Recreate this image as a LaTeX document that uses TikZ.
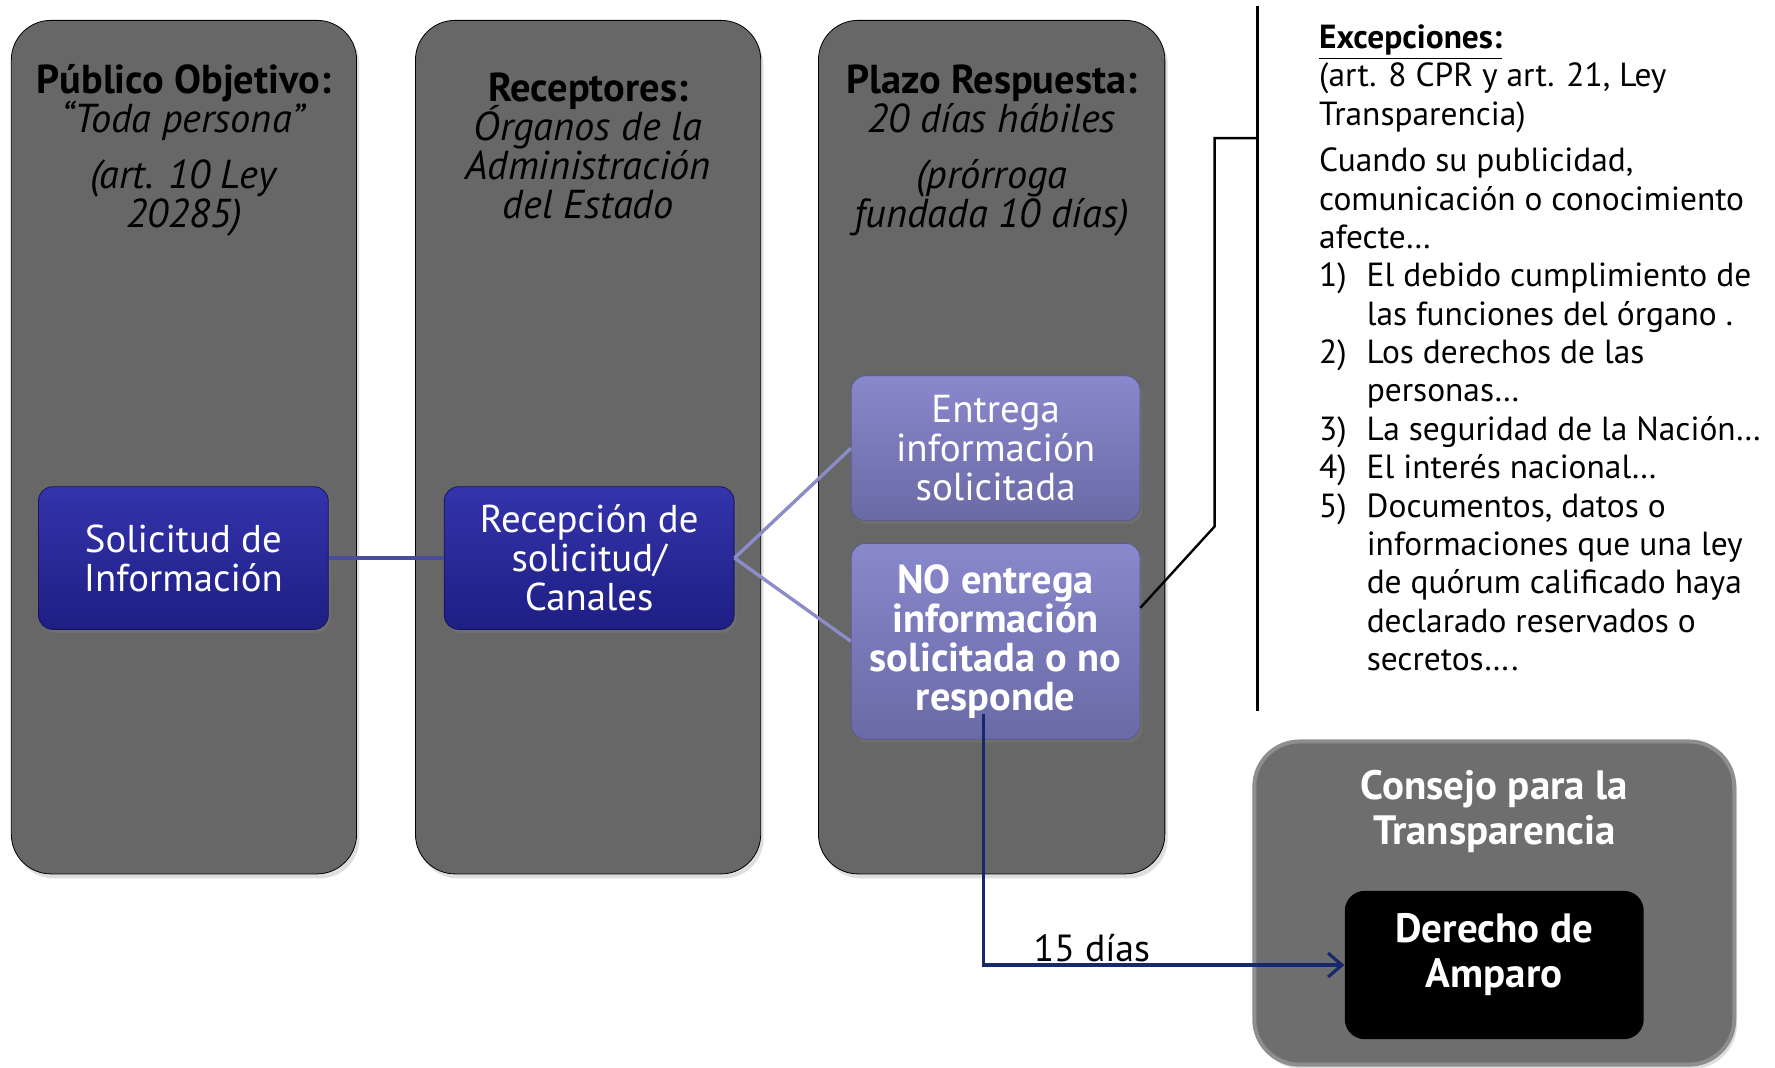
\documentclass[tikz,border=0pt]{standalone}
\usepackage{fontspec}
\setmainfont{PT Sans}
\usetikzlibrary{arrows.meta,positioning,shadows}

\definecolor{colgray}{HTML}{676767}
\definecolor{consgray}{HTML}{6E6E6E}
\definecolor{consedge}{HTML}{8E8E8E}
\definecolor{dtop}{HTML}{3434AC}
\definecolor{dbot}{HTML}{1E1E84}
\definecolor{dedge}{HTML}{15155A}
\definecolor{ltop}{HTML}{8888CC}
\definecolor{lbot}{HTML}{6A6AA6}
\definecolor{ledge}{HTML}{5A5A8E}
\definecolor{linkblue}{HTML}{4C4C9E}
\definecolor{linklilac}{HTML}{8C8CC8}
\definecolor{arrnavy}{HTML}{17296B}

\newcommand{\itemno}[1]{\makebox[0.84cm][l]{#1}}
\newcommand{\itemind}{\hspace*{0.84cm}}
\newcommand{\tightlines}{\lineskiplimit=-10pt\relax}

\begin{document}
\begin{tikzpicture}[
  every node/.style={font=\fontsize{16.8}{19.3}\selectfont},
  col/.style={fill=colgray, rounded corners=0.7cm,
    drop shadow={opacity=0.25, shadow xshift=0.05cm, shadow yshift=-0.08cm}},
  head/.style={align=center, anchor=north, inner sep=0pt,
    font=\fontsize{20.3}{19.6}\selectfont\tightlines},
  dbox/.style={draw=dedge, top color=dtop, bottom color=dbot, rounded corners=0.25cm,
    minimum width=5.12cm, minimum height=2.52cm, text=white, align=center,
    font=\fontsize{19.5}{19.6}\selectfont\tightlines,
    drop shadow={opacity=0.35, shadow xshift=0.04cm, shadow yshift=-0.06cm}},
  lbox/.style={draw=ledge, top color=ltop, bottom color=lbot, rounded corners=0.25cm,
    minimum width=5.1cm, text=white, align=center,
    font=\fontsize{19.6}{19.6}\selectfont\tightlines,
    drop shadow={opacity=0.35, shadow xshift=0.04cm, shadow yshift=-0.06cm}},
  link/.style={draw=linkblue, line width=2.2pt},
  twig/.style={draw=linklilac, line width=1.7pt},
  rule/.style={draw=black, line width=1.2pt},
  arr/.style={draw=arrnavy, line width=1.6pt, -{Straight Barb[length=7pt,width=12pt]}},
  exc/.style={align=left, anchor=north west, inner sep=0pt},
  big/.style={text=white, align=center, font=\fontsize{20.6}{22.7}\selectfont\bfseries}
]
  \useasboundingbox (0,0) rectangle (31.36,18.86);

  % columns
  \draw[col] (0.2,3.42) rectangle (6.3,18.5);
  \draw[col] (7.34,3.42) rectangle (13.44,18.5);
  \draw[col] (14.46,3.42) rectangle (20.58,18.5);

  % headers
  \node[head] (h1) at (3.25,17.72) {\textbf{Público Objetivo:}\\ \textit{“Toda persona”}\\[8.5pt]
    \textit{(art. 10 Ley}\\ \textit{20285)}};
  \node[head] (h2) at (10.39,17.58) {\textbf{Receptores:}\\ \textit{Órganos de la}\\
    \textit{Administración}\\ \textit{del Estado}};
  \node[head] (h3) at (17.52,17.72) {\textbf{Plazo Respuesta:}\\ \textit{20 días hábiles}\\[8.5pt]
    \textit{(prórroga}\\ \textit{fundada 10 días)}};

  % steps
  \node[dbox] (sol) at (3.24,9.0) {Solicitud de\\ Información};
  \node[dbox] (rec) at (10.41,9.0) {Recepción de\\ solicitud/\\ Canales};
  \node[lbox, minimum height=2.56cm] (ent) at (17.59,10.94) {Entrega\\ información\\ solicitada};
  \node[lbox, minimum height=3.46cm,
    font=\fontsize{20.3}{19.6}\selectfont\bfseries\tightlines] (noent)
    at (17.59,7.53) {NO entrega\\ información\\ solicitada o no\\ responde};

  \draw[link] (sol) -- (rec);
  \draw[twig] (rec.east) -- (ent.west);
  \draw[twig] (rec.east) -- (noent.west);

  % exceptions
  \coordinate (rtop) at (22.22,18.76);
  \coordinate (rbot) at (22.22,6.3);
  \coordinate (kink) at (21.46,9.56);
  \coordinate (hook) at (22.22,16.42);
  \draw[rule] (rtop) -- (rbot);
  \draw[rule] (noent.13) -- (kink) |- (hook);

  \node[exc] (list) at (23.3,18.43) {\textbf{\underline{Excepciones:}}\\
    (art. 8 CPR y art. 21, Ley\\
    Transparencia)\\[4pt]
    Cuando su publicidad,\\
    comunicación o conocimiento\\
    afecte…\\
    \itemno{1)}El debido cumplimiento de\\
    \itemind las funciones del órgano .\\
    \itemno{2)}Los derechos de las\\
    \itemind personas…\\
    \itemno{3)}La seguridad de la Nación…\\
    \itemno{4)}El interés nacional…\\
    \itemno{5)}Documentos, datos o\\
    \itemind informaciones que una ley\\
    \itemind de quórum calificado haya\\
    \itemind declarado reservados o\\
    \itemind secretos….};

  % consejo
  \draw[fill=consgray, draw=consedge, line width=2pt, rounded corners=0.8cm,
    drop shadow={opacity=0.25, shadow xshift=0.05cm, shadow yshift=-0.08cm}]
    (22.16,0.05) rectangle (30.64,5.76);
  \node[big] (cons) at (26.4,4.52) {Consejo para la\\ Transparencia};
  \node[fill=black, rounded corners=0.35cm, minimum width=5.28cm,
    minimum height=2.62cm] (amparo) at (26.4,1.81) {};
  \node[big] (amptxt) at (26.4,1.99) {Derecho de\\ Amparo};

  \draw[arr] ([xshift=-0.21cm,yshift=0.45cm]noent.south) |- (amparo.west)
    node[pos=0.65, above, inner sep=1pt, text=black, font=\fontsize{19}{20}\selectfont] {15 días};

\end{tikzpicture}
\end{document}
